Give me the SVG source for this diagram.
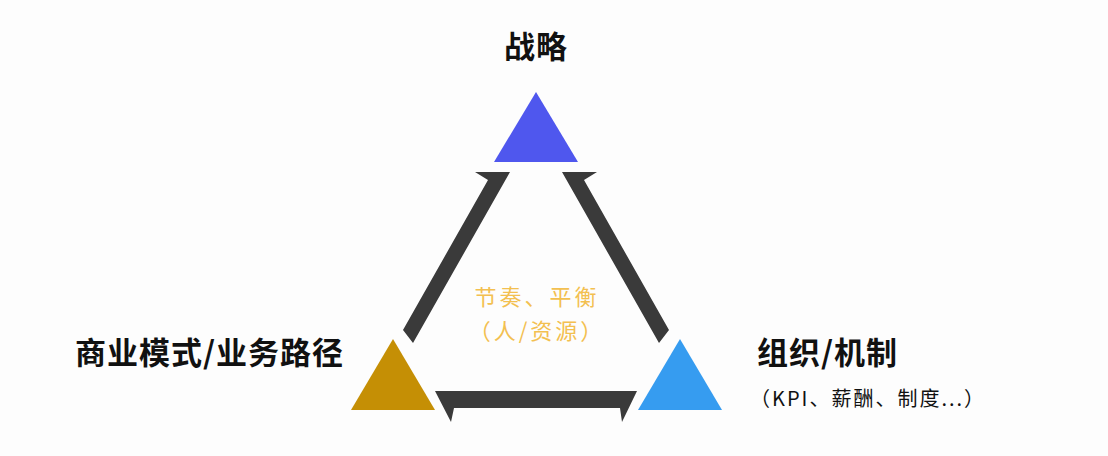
<svg xmlns="http://www.w3.org/2000/svg" width="1108" height="456" viewBox="0 0 1108 456">
<style>
.t{font-family:"Noto Sans CJK SC","Noto Sans",sans-serif;font-weight:bold;fill:#111;font-size:31px;letter-spacing:1px}
.s{font-family:"Noto Sans CJK SC","Noto Sans",sans-serif;fill:#111;font-size:20px;letter-spacing:2px}
.c{font-family:"Noto Sans CJK SC","Noto Sans",sans-serif;fill:#f3c050;font-size:22px;letter-spacing:3px;text-anchor:middle}
.bar{fill:#3a3a3a}
</style>
<rect width="1108" height="456" fill="#fdfdfd"/>
<g id="connectors">
<polygon class="bar" points="475,172 510,172 413,343 403,330 488,180"/>
<polygon class="bar" points="597,172 562,172 659,343 669,330 584,180"/>
<polygon class="bar" points="435,391 637,391 622,422 620,408 454,408 451,422"/>
</g>
<g id="strategy">
<polygon points="536,92 578,162 494,162" fill="#4f57ee"/>
<text class="t" x="536" y="58" text-anchor="middle">战略</text>
</g>
<g id="business">
<polygon points="393,339 435,410 351,410" fill="#c58f05"/>
<text class="t" x="75" y="364">商业模式/业务路径</text>
</g>
<g id="org">
<polygon points="680,339 722,410 638,410" fill="#369cf0"/>
<text class="t" x="757" y="364">组织/机制</text>
<text class="s" x="750" y="406">（KPI、薪酬、制度...）</text>
</g>
<g id="center">
<text class="c" x="537" y="305">节奏、平衡</text>
<text class="c" x="537" y="339">（人/资源）</text>
</g>
</svg>
